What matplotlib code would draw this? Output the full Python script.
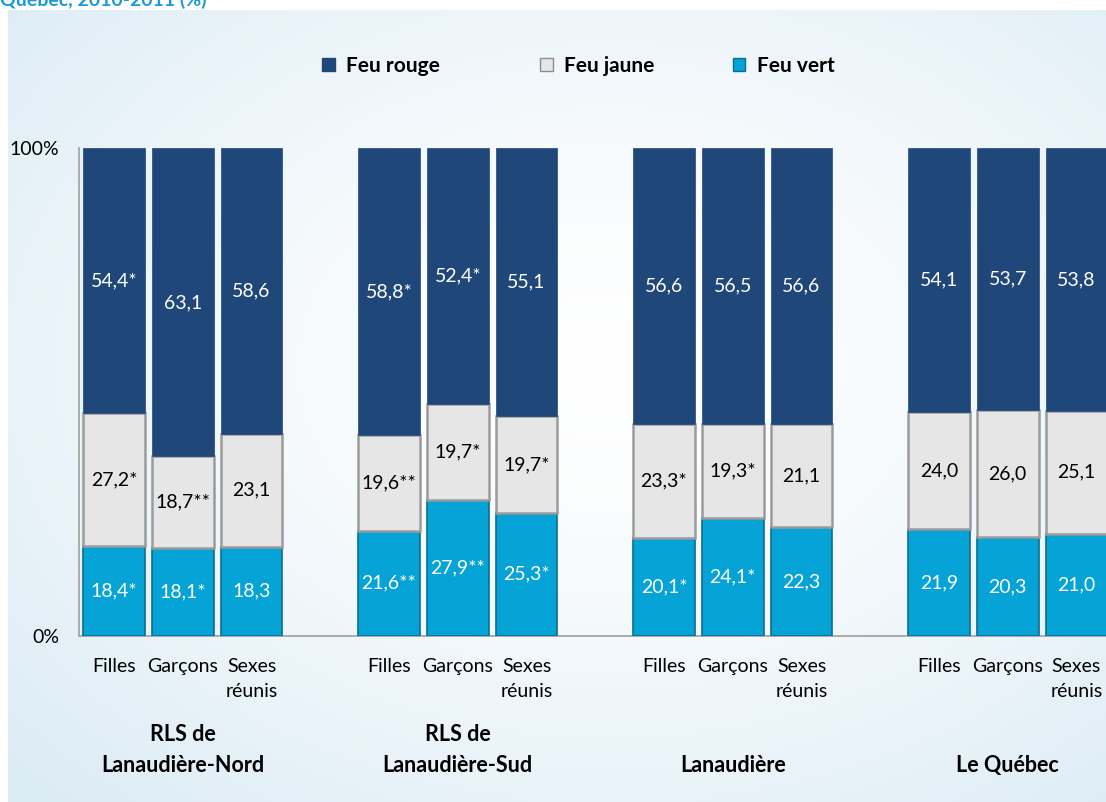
import numpy as np
import matplotlib
matplotlib.use("Agg")
import matplotlib.pyplot as plt
from matplotlib.patches import Patch
from matplotlib.colors import to_rgb

plt.rcParams['font.family'] = ['Lato', 'DejaVu Sans']

# ---------------- data ----------------
groups = ["RLS de\nLanaudière-Nord", "RLS de\nLanaudière-Sud", "Lanaudière", "Le Québec"]
sexes = ["Filles", "Garçons", "Sexes\nréunis"]
series_names = ["Feu rouge", "Feu jaune", "Feu vert"]

vert = [18.4, 18.1, 18.3, 21.6, 27.9, 25.3, 20.1, 24.1, 22.3, 21.9, 20.3, 21.0]
jaune = [27.2, 18.7, 23.1, 19.6, 19.7, 19.7, 23.3, 19.3, 21.1, 24.0, 26.0, 25.1]
rouge = [54.4, 63.1, 58.6, 58.8, 52.4, 55.1, 56.6, 56.5, 56.6, 54.1, 53.7, 53.8]

vert_lbl = ["18,4*", "18,1*", "18,3", "21,6**", "27,9**", "25,3*", "20,1*", "24,1*", "22,3", "21,9", "20,3", "21,0"]
jaune_lbl = ["27,2*", "18,7**", "23,1", "19,6**", "19,7*", "19,7*", "23,3*", "19,3*", "21,1", "24,0", "26,0", "25,1"]
rouge_lbl = ["54,4*", "63,1", "58,6", "58,8*", "52,4*", "55,1", "56,6", "56,5", "56,6", "54,1", "53,7", "53,8"]

title_text = "Québec, 2010-2011 (%)"

# ---------------- figure ----------------
W, H = 1106, 802
fig = plt.figure(figsize=(W / 100, H / 100), dpi=100)
fig.patch.set_facecolor("white")

# background gradient panel
bg = fig.add_axes([8 / W, 0, 1 - 8 / W, 1 - 10 / H], zorder=0)
ny, nx = 200, 300
yy, xx = np.mgrid[0:1:ny * 1j, 0:1:nx * 1j]
d = np.sqrt(((xx - 0.55) / 0.75) ** 2 + ((yy - 0.45) / 0.75) ** 2)
t = np.clip(d, 0, 1) ** 1.4
c_out = np.array(to_rgb("#dcecf5"))
c_in = np.array([1.0, 1.0, 1.0])
img = c_in[None, None, :] * (1 - t[..., None]) + c_out[None, None, :] * t[..., None]
bg.imshow(img, aspect="auto", extent=[0, 1, 0, 1], interpolation="bilinear")
bg.set_axis_off()

# main axes
left, right = 79 / W, 1.0
bottom, top = 1 - 636 / H, 1 - 148 / H
ax = fig.add_axes([left, bottom, right - left, top - bottom], zorder=2)
ax.patch.set_alpha(0)

n_per = len(sexes)
pos = []
for g in range(len(groups)):
    for s in range(n_per):
        pos.append(g * (n_per + 1) + s)
pos = np.array(pos, dtype=float)

c_rouge = "#1f477a"
c_jaune = "#e6e6e6"
c_vert = "#06a3d6"
bw = 0.9

vert_a = np.array(vert)
jaune_a = np.array(jaune)
rouge_a = np.array(rouge)

ax.bar(pos, vert_a, bw, color=c_vert, edgecolor="#0b6d92", linewidth=1.2, zorder=3)
ax.bar(pos, jaune_a, bw, bottom=vert_a, color=c_jaune, edgecolor="#9b9b9b", linewidth=1.8, zorder=3)
ax.bar(pos, rouge_a, bw, bottom=vert_a + jaune_a, color=c_rouge, edgecolor=c_rouge, linewidth=0.5, zorder=3)

fs = 14
for i, x in enumerate(pos):
    ax.text(x, vert_a[i] / 2, vert_lbl[i], ha="center", va="center", color="white", fontsize=fs, zorder=5)
    ax.text(x, vert_a[i] + jaune_a[i] / 2, jaune_lbl[i], ha="center", va="center", color="black", fontsize=fs, zorder=5)
    ax.text(x, vert_a[i] + jaune_a[i] + rouge_a[i] / 2, rouge_lbl[i], ha="center", va="center", color="white", fontsize=fs, zorder=5)

ax.set_xlim(-0.51, 14.43)
ax.set_ylim(0, 100)

ax.set_yticks([0, 100])
ax.set_yticklabels(["0%", "100%"], fontsize=14)
ax.tick_params(axis="y", length=0, pad=14)

ax.set_xticks(pos)
ax.set_xticklabels(sexes * len(groups), fontsize=14, linespacing=1.58, va="top")
ax.tick_params(axis="x", length=0, pad=16)

for sp in ["top", "right"]:
    ax.spines[sp].set_visible(False)
for sp in ["left", "bottom"]:
    ax.spines[sp].set_color("#a6a6a6")
    ax.spines[sp].set_linewidth(1.3)

# group labels (bottom-aligned, like the original)
for g, name in enumerate(groups):
    cx = g * (n_per + 1) + 1
    ax.text(cx, -28.7, name, ha="center", va="bottom", fontsize=15.5, fontweight="bold",
            linespacing=1.6, transform=ax.transData, clip_on=False)

# legend: one entry per legend, anchored at the marker positions
handles = [Patch(facecolor=c_rouge, edgecolor=c_rouge),
           Patch(facecolor=c_jaune, edgecolor="#8c8c8c"),
           Patch(facecolor=c_vert, edgecolor="#0b6d92")]
marker_x = [322, 540, 733]
for h, name, mx in zip(handles, series_names, marker_x):
    fig.legend([h], [name], loc="center left", bbox_to_anchor=(mx / W, 1 - 66 / H),
               frameon=False, handlelength=0.6, handleheight=0.6, handletextpad=0.55,
               borderpad=0, borderaxespad=0, prop={"weight": "bold", "size": 15})

# cut-off title at the very top
fig.text(0.0, 1 - 6 / H, title_text, ha="left", va="baseline", fontsize=14,
         fontweight="bold", color="#1b9ad6")

fig.savefig("out.png", dpi=100)
